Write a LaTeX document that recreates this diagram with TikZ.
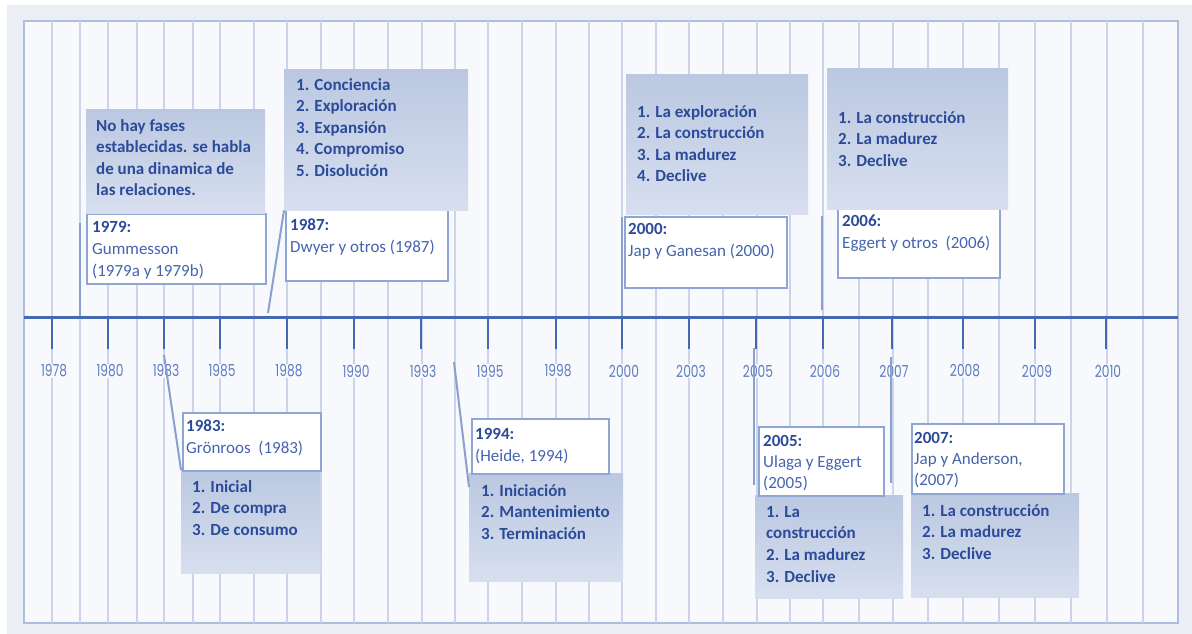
\documentclass[tikz,border=0pt]{standalone}
\usepackage{fontspec}
\setmainfont{Carlito}
\newfontfamily\tickfont[FakeStretch=0.74]{Poppins}

\definecolor{outerbg}{HTML}{EBEEF5}
\definecolor{innerbg}{HTML}{F8F9FC}
\definecolor{framec}{HTML}{AEBCDF}
\definecolor{gridc}{HTML}{CBD4E9}
\definecolor{axisc}{HTML}{4468B2}
\definecolor{tickc}{HTML}{5E7DC0}
\definecolor{boxtop}{HTML}{BBC8E1}
\definecolor{boxbot}{HTML}{D7DFEF}
\definecolor{wborder}{HTML}{8FA5D3}
\definecolor{darktext}{HTML}{2B4B9A}
\definecolor{lighttext}{HTML}{4464AF}
\definecolor{connc}{HTML}{8AA0CE}

\tikzset{
  phasebox/.style={draw=none, top color=boxtop, bottom color=boxbot, anchor=north west, inner sep=0pt},
  refbox/.style={draw=wborder, line width=1.5pt, fill=white, anchor=north west, inner sep=0pt},
  phasetext/.style={anchor=north west, inner sep=0pt, align=left, text=darktext,
    font=\fontsize{17}{21.6}\selectfont\bfseries},
  reftext/.style={anchor=north west, inner sep=0pt, align=left, text=lighttext,
    font=\fontsize{17}{22}\selectfont},
  yearlabel/.style={fill=innerbg, inner sep=1pt, text=tickc, font=\tickfont\fontsize{16.5}{18}\selectfont},
  conn/.style={draw=connc, line width=2pt},
  gridline/.style={draw=gridc, line width=1.2pt},
  tickmark/.style={draw=axisc, line width=2.5pt}
}
\newcommand{\yr}[1]{\textcolor{darktext}{\bfseries #1}}

\begin{document}
\begin{tikzpicture}[x=1pt,y=-1pt]
\useasboundingbox (0,0) rectangle (1192,634);
% background and frame
\fill[white] (0,0) rectangle (1192,634);
\fill[outerbg] (7,5) rectangle (1192,634);
\filldraw[fill=innerbg, draw=framec, line width=1.2pt] (24,21) rectangle (1178,623);

% vertical grid
\foreach \gx in {52,80,108,137,164,193,220,254,287,321,354,388,422,455,488,522,556,589,622,656,689,723,757,790,823,859,893,928,963,999,1035,1071,1107,1143}
  \draw[gridline] (\gx,21) -- (\gx,623);

% axis
\draw[draw=axisc, line width=3pt] (24,317) -- (1178,317);

% ticks and year labels
\foreach \tx/\ty [count=\i] in {52/1978,108/1980,164/1983,220/1985,287/1988,354/1990,421/1993,488/1995,556/1998,622/2000,689/2003,756/2005,823/2006,892/2007,963/2008,1035/2009,1106/2010}{
  \coordinate (tick\i) at (\tx,317);
  \draw[tickmark] (tick\i) -- (\tx,349);
  \node[yearlabel] (lab\i) at (\tx+2,371) {\ty};
}

% ---- upper entries ----
% 1979
\node[refbox, minimum width=179pt, minimum height=70pt] (w1979) at (86,213) {};
\node[phasebox, minimum width=179pt, minimum height=104pt] (p1979) at (86,109) {};
\node[phasetext] (tp1979) at (96,119) {No hay fases\\establecidas. se habla\\de una dinamica de\\las relaciones.};
\node[reftext] (tw1979) at (92,221) {\yr{1979:}\\Gummesson\\(1979a y 1979b)};

% 1987
\node[refbox, minimum width=162pt, minimum height=71pt] (w1987) at (285,209) {};
\node[phasebox, minimum width=184pt, minimum height=141pt] (p1987) at (284,69) {};
\node[phasetext] (tp1987) at (296,78) {1. Conciencia\\2. Exploración\\3. Expansión\\4. Compromiso\\5. Disolución};
\node[reftext] (tw1987) at (290,219) {\yr{1987:}\\Dwyer y otros (1987)};

% 2000
\node[refbox, minimum width=162pt, minimum height=71pt] (w2000) at (624,216) {};
\node[phasebox, minimum width=182pt, minimum height=140pt] (p2000) at (626,74) {};
\node[phasetext] (tp2000) at (637,105) {1. La exploración\\2. La construcción\\3. La madurez\\4. Declive};
\node[reftext] (tw2000) at (628,223) {\yr{2000:}\\Jap y Ganesan (2000)};

% 2006
\node[refbox, minimum width=162pt, minimum height=72pt] (w2006) at (837,205) {};
\node[phasebox, minimum width=181pt, minimum height=141pt] (p2006) at (827,68) {};
\node[phasetext] (tp2006) at (838,111) {1. La construcción\\2. La madurez\\3. Declive};
\node[reftext] (tw2006) at (842,215) {\yr{2006:}\\Eggert y otros\ \ (2006)};

% ---- lower entries ----
% 1983
\node[phasebox, minimum width=139pt, minimum height=103pt] (p1983) at (181,470) {};
\node[refbox, minimum width=138pt, minimum height=58pt] (w1983) at (182,412) {};
\node[phasetext] (tp1983) at (192,480) {1. Inicial\\2. De compra\\3. De consumo};
\node[reftext] (tw1983) at (186,420) {\yr{1983:}\\Grönroos\ \ (1983)};

% 1994
\node[phasebox, minimum width=154pt, minimum height=108pt] (p1994) at (469,473) {};
\node[refbox, minimum width=137pt, minimum height=55pt] (w1994) at (471,418) {};
\node[phasetext] (tp1994) at (481,484) {1. Iniciación\\2. Mantenimiento\\3. Terminación};
\node[reftext] (tw1994) at (475,428) {\yr{1994:}\\(Heide, 1994)};

% 2005
\node[phasebox, minimum width=148pt, minimum height=103pt] (p2005) at (755,495) {};
\node[refbox, minimum width=125pt, minimum height=69pt] (w2005) at (758,426) {};
\node[phasetext] (tp2005) at (766,506) {1. La\\construcción\\2. La madurez\\3. Declive};
\node[reftext, font=\fontsize{17}{21}\selectfont] (tw2005) at (763,435) {\yr{2005:}\\Ulaga y Eggert\\(2005)};

% 2007
\node[phasebox, minimum width=168pt, minimum height=104pt] (p2007) at (911,493) {};
\node[refbox, minimum width=152pt, minimum height=70pt] (w2007) at (911,423) {};
\node[phasetext] (tp2007) at (922,504) {1. La construcción\\2. La madurez\\3. Declive};
\node[reftext, font=\fontsize{17}{21}\selectfont] (tw2007) at (914,432) {\yr{2007:}\\Jap y Anderson,\\(2007)};

% ---- connectors from the axis to the entries ----
\coordinate (a1979) at (80,316);   \coordinate (e1979) at (80,223);
\coordinate (a1987) at (268,313);
\coordinate (a2000) at (622,316);  \coordinate (e2000) at (622,217);
\coordinate (a2006) at (822,310);  \coordinate (e2006) at (822,216);
\coordinate (a1983) at (164,355);
\coordinate (a1994) at (454,362);
\coordinate (a2005) at (754,348);  \coordinate (e2005) at (754,485);
\coordinate (a2007) at (891,357);  \coordinate (e2007) at (891,483);

\draw[conn] (a1979) -- (e1979);
\draw[conn] (a1987) -- (p1987.south west);
\draw[conn] (a2000) -- (e2000);
\draw[conn] (a2006) -- (e2006);
\draw[conn] (a1983) -- (p1983.north west);
\draw[conn] (a1994) -- ([yshift=-14pt]p1994.north west);
\draw[conn] (a2005) -- (e2005);
\draw[conn] (a2007) -- (e2007);
\end{tikzpicture}
\end{document}
